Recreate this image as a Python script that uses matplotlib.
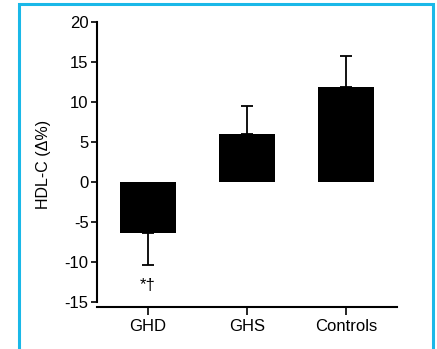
import matplotlib
matplotlib.use("Agg")
import matplotlib.pyplot as plt
from matplotlib.patches import Rectangle

groups = ["GHD", "GHS", "Controls"]
means = [-6.4, 6.0, 11.9]
errors = [4.0, 3.5, 3.9]
yticks = [20, 15, 10, 5, 0, -5, -10, -15]

plt.rcParams['font.family'] = ['Liberation Sans', 'DejaVu Sans']

fig = plt.figure(figsize=(4.37, 3.49), dpi=100)
ax = fig.add_axes([97 / 437, 1 - 306.7 / 349, 300 / 437, (306.7 - 22) / 349])

x = list(range(len(groups)))
ax.bar(x, means, width=0.56, color='black')
# one-sided error bars, away from zero
for xi, m, e in zip(x, means, errors):
    lo = [e] if m < 0 else [0]
    hi = [0] if m < 0 else [e]
    ax.errorbar(xi, m, yerr=[lo, hi], fmt='none', ecolor='black',
                elinewidth=1.3, capsize=4.2, capthick=1.3)

ax.text(0, -12.9, "*†", ha='center', va='center', fontsize=12)

ax.set_xlim(-0.515, 2.515)
ax.set_ylim(-15.6, 20)
ax.set_xticks(x)
ax.set_xticklabels(groups, fontsize=12)
ax.set_yticks(yticks)
ax.set_yticklabels([str(t) for t in yticks], fontsize=12)
ax.set_ylabel("HDL-C (Δ%)", fontsize=11.5, labelpad=10)

ax.spines['top'].set_visible(False)
ax.spines['right'].set_visible(False)
ax.spines['left'].set_bounds(-15, 20)
ax.spines['left'].set_linewidth(1.5)
ax.spines['bottom'].set_linewidth(1.5)
ax.tick_params(axis='y', direction='out', length=4, width=1.2, pad=2)
ax.tick_params(axis='x', direction='out', length=6, width=1.2, pad=3)

fig.patches.append(Rectangle((19 / 437, -0.05), 414 / 437, 1.0 - 4 / 349 + 0.05,
                             transform=fig.transFigure, fill=False,
                             edgecolor='#1ab8e8', linewidth=2.2))

fig.savefig("out.png", dpi=100)
